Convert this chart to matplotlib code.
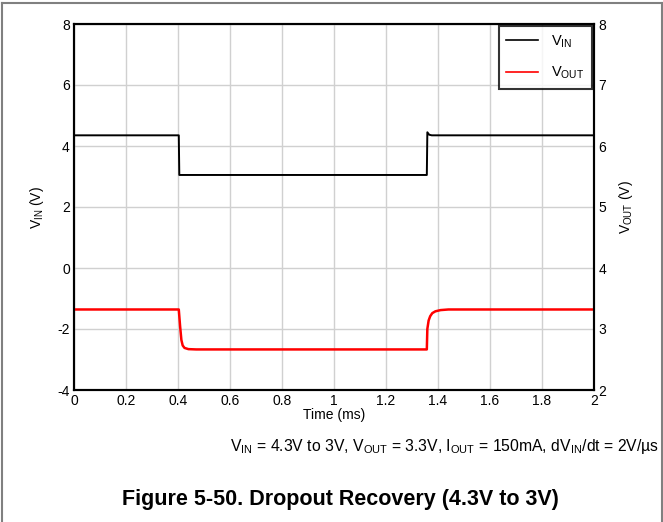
import matplotlib.pyplot as plt
from matplotlib.lines import Line2D

plt.rcParams["font.family"] = ["Liberation Sans", "DejaVu Sans"]
plt.rcParams["axes.unicode_minus"] = False

# time (ms) and voltages
t_in = [0, 0.403, 0.405, 1.357, 1.359, 1.366, 1.376, 2.0]
v_in = [4.35, 4.35, 3.05, 3.05, 4.45, 4.37, 4.35, 4.35]

t_out = [0, 0.403, 0.408, 0.413, 0.418, 0.425, 0.44, 0.47, 1.357, 1.359, 1.364,
         1.37, 1.378, 1.39, 1.41, 1.44, 2.0]
v_out = [3.32, 3.32, 3.05, 2.82, 2.73, 2.69, 2.67, 2.665, 2.665, 3.0, 3.14,
         3.21, 3.26, 3.29, 3.31, 3.32, 3.32]

x_ticks = [0, 0.2, 0.4, 0.6, 0.8, 1, 1.2, 1.4, 1.6, 1.8, 2]
y_left_ticks = [-4, -2, 0, 2, 4, 6, 8]
y_right_ticks = [2, 3, 4, 5, 6, 7, 8]

fig = plt.figure(figsize=(6.63, 5.22), dpi=100)
ax = fig.add_axes([74 / 663, 1 - 390 / 522, 520 / 663, 366 / 522])
ax2 = ax.twinx()

ax.plot(t_in, v_in, color="black", lw=1.4)
ax2.plot(t_out, v_out, color="#ff0000", lw=1.8)

ax.set_xlim(0, 2)
ax.set_ylim(-4, 8)
ax2.set_ylim(2, 8)
ax.set_xticks(x_ticks)
ax.set_xticklabels([f"{v:g}" for v in x_ticks])
ax.set_yticks(y_left_ticks)
ax2.set_yticks(y_right_ticks)
ax.grid(color="#d0d0d0", lw=1.0)
ax.set_axisbelow(True)

for a in (ax, ax2):
    a.tick_params(length=0, pad=3, labelsize=10)
    for s in a.spines.values():
        s.set_color("black")
        s.set_linewidth(1.5)

ax.set_xlabel("Time (ms)", fontsize=10, labelpad=0)
ax.set_ylabel(r"V$_{\mathregular{IN}}$ (V)", fontsize=10, labelpad=8)
ax2.set_ylabel(r"V$_{\mathregular{OUT}}$ (V)", fontsize=10, labelpad=8)

handles = [Line2D([], [], color="black", lw=1.2), Line2D([], [], color="#ff0000", lw=1.2)]
leg = ax2.legend(handles, [r"V$_{\mathregular{IN}}$", r"V$_{\mathregular{OUT}}$"],
                 loc="upper right", fontsize=10.5, frameon=True, fancybox=False,
                 borderaxespad=0.15, handlelength=2.2, handletextpad=0.9,
                 borderpad=0.5, labelspacing=1.0)
leg.get_frame().set_edgecolor("black")
leg.get_frame().set_linewidth(1.5)

fig.text(0.67, 1 - 447 / 522,
         r"V$_{\mathregular{IN}}$ = 4.3V to 3V, V$_{\mathregular{OUT}}$ = 3.3V, "
         r"I$_{\mathregular{OUT}}$ = 150mA, dV$_{\mathregular{IN}}$/dt = 2V/µs",
         ha="center", va="center", fontsize=11.3)
fig.text(0.513, 1 - 500 / 522, "Figure 5-50. Dropout Recovery (4.3V to 3V)",
         ha="center", va="center", fontsize=15.5, fontweight="bold")

# grey page border (left, top, right)
for xs, ys in [([1.5 / 663, 1.5 / 663], [0, 1 - 3 / 522]),
               ([1.5 / 663, 1 - 1.5 / 663], [1 - 3 / 522, 1 - 3 / 522]),
               ([1 - 1.5 / 663, 1 - 1.5 / 663], [0, 1 - 3 / 522])]:
    fig.add_artist(Line2D(xs, ys, color="#808080", lw=1.5, transform=fig.transFigure))

fig.savefig("out.png", dpi=100, facecolor="white")
